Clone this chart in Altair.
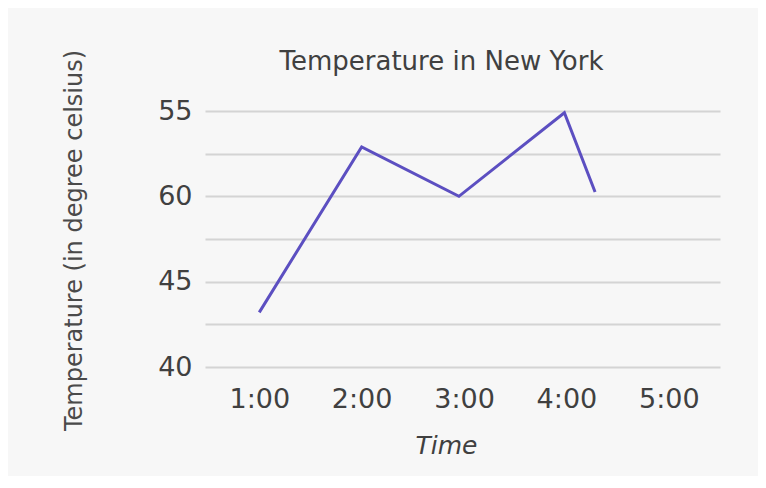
import altair as alt
import pandas as pd

# Data
hours = [1.0, 2.0, 2.95, 3.98, 4.28]
temps = [43.2, 52.9, 50.0, 54.9, 50.25]

x_tick_values = [1, 2, 3, 4, 5]
x_tick_labels = ["1:00", "2:00", "3:00", "4:00", "5:00"]
y_grid_values = [40, 42.5, 45, 47.5, 50, 52.5, 55]
y_label_values = [40, 45, 50, 55]
y_tick_labels = ["40", "45", "60", "55"]


def label_expr(values, labels):
    expr = "''"
    for v, l in reversed(list(zip(values, labels))):
        expr = f"datum.value == {v} ? '{l}' : ({expr})"
    return expr


df = pd.DataFrame({"hour": hours, "temp": temps})

FONT = "DejaVu Sans"
TXT = "#404040"

chart = alt.Chart(df).mark_line(color="#5c4fc1", strokeWidth=3).encode(
    x=alt.X(
        "hour:Q",
        scale=alt.Scale(domain=[0.47, 5.5], nice=False, zero=False),
        axis=alt.Axis(
            values=x_tick_values,
            labelExpr=label_expr(x_tick_values, x_tick_labels),
            grid=False, domain=False, ticks=False,
            labelFontSize=27, labelFont=FONT, labelColor=TXT, labelPadding=19,
            labelFlush=False, labelOverlap=False,
            title="Time", titleFont=FONT, titleFontSize=25, titleFontStyle="italic",
            titleFontWeight="normal", titleColor=TXT,
            titleX=241, titleY=86, titleAlign="center", titleBaseline="alphabetic",
        ),
    ),
    y=alt.Y(
        "temp:Q",
        scale=alt.Scale(domain=[40, 55], nice=False, zero=False),
        axis=alt.Axis(
            values=y_grid_values,
            labelExpr=label_expr(y_label_values, y_tick_labels),
            grid=True, gridColor="#d4d4d4", gridWidth=2,
            domain=False, ticks=False,
            labelFontSize=27, labelFont=FONT, labelColor=TXT, labelPadding=13,
            labelFlush=False, labelOverlap=False,
            title="Temperature (in degree celsius)", titleFont=FONT, titleFontSize=24,
            titleFontWeight="normal", titleColor="#4a4a4a",
            titleAngle=270, titleX=-131, titleY=129, titleAlign="center",
            titleBaseline="middle",
        ),
    ),
).properties(
    width=515,
    height=256,
    title=alt.TitleParams(
        "Temperature in New York", font=FONT, fontSize=26, fontWeight="normal",
        color=TXT, anchor="middle", frame="group", dx=-21, dy=48, offset=22,
    ),
    padding={"left": 197, "top": 103, "right": 38, "bottom": 109},
    autosize="none",
    background="#f7f7f7",
).configure_view(strokeWidth=0)

chart.save("out.html", embed_options={"renderer": "svg", "actions": False})
